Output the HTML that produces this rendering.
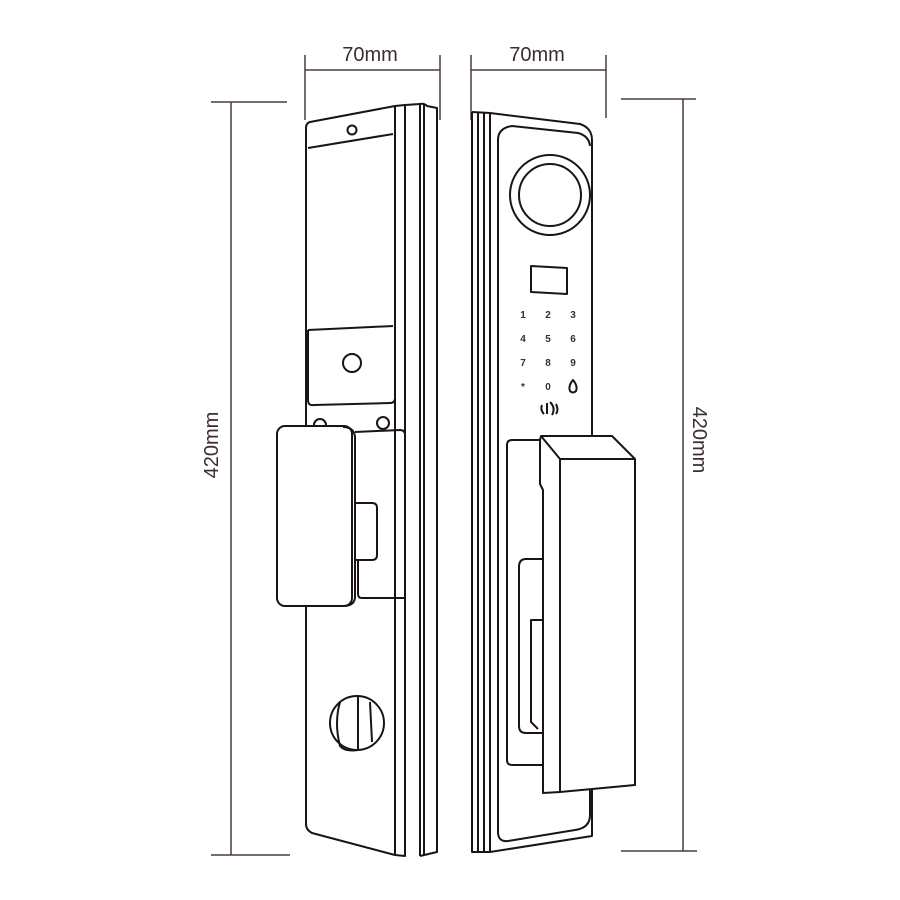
<!DOCTYPE html>
<html><head><meta charset="utf-8"><style>
html,body{margin:0;padding:0;background:#fff;}
svg{display:block}
text{font-family:"Liberation Sans",sans-serif;fill:#3a2e2e}
</style></head><body>
<svg width="900" height="900" viewBox="0 0 900 900" xmlns="http://www.w3.org/2000/svg">
<g stroke="#4a3a3a" stroke-width="1.5" fill="none">
<!-- top dimension left -->
<line x1="305" y1="55" x2="305" y2="120"/><line x1="440" y1="55" x2="440" y2="120"/>
<line x1="305" y1="70" x2="440" y2="70"/>
<!-- top dimension right -->
<line x1="471" y1="55" x2="471" y2="120"/><line x1="606" y1="55" x2="606" y2="118"/>
<line x1="471" y1="70" x2="606" y2="70"/>
<!-- left vertical dim -->
<line x1="211" y1="102" x2="287" y2="102"/><line x1="211" y1="855" x2="290" y2="855"/>
<line x1="231" y1="102" x2="231" y2="855"/>
<!-- right vertical dim -->
<line x1="621" y1="99" x2="696" y2="99"/><line x1="621" y1="851" x2="697" y2="851"/>
<line x1="683" y1="99" x2="683" y2="851"/>
</g>
<text x="370" y="61" font-size="20" text-anchor="middle">70mm</text>
<text x="537" y="61" font-size="20" text-anchor="middle">70mm</text>
<text transform="translate(218,445) rotate(-90)" font-size="20" text-anchor="middle">420mm</text>
<text transform="translate(693,440) rotate(90)" font-size="20" text-anchor="middle">420mm</text>

<g stroke="#1a1414" stroke-width="2" fill="none" stroke-linejoin="round">
<!-- LEFT LOCK -->
<path d="M310 122 L395 106 L395 855 L312 833 Q306 830 306 824 L306 128 Q306 123 310 122 Z"/>
<path d="M395 106 L405 105 L405 856 L395 855"/>
<path d="M405 105 L420 104 L420 856"/>
<path d="M420 104 Q424 103 427 106 L437 108 L437 852 L420 856"/>
<line x1="424" y1="104" x2="424" y2="855"/>
<!-- screen region -->
<path d="M308 148 L393 134"/>
<path d="M308 330 L393 326"/>
<path d="M308 330 L308 400 Q308 406 314 405 L390 403 Q395 403 395 398"/>
<circle cx="352" cy="130" r="4.5"/>
<circle cx="352" cy="363" r="9"/>
<!-- small circles -->
<circle cx="320" cy="425" r="6"/><circle cx="383" cy="423" r="6"/>
<!-- right block behind handle -->
<path d="M355 432 L400 430 Q405 430 405 435 L405 598 L362 598 Q358 598 358 594 L358 560"/>
<path d="M355 503 L372 503 Q377 503 377 508 L377 555 Q377 560 372 560 L355 560"/>
<!-- handle -->
<rect x="277" y="426" width="75" height="180" rx="8" fill="#fff"/>
<path d="M343 427 Q354 427 355 437 L355 598 Q354 606 343 606"/>
<!-- knob -->
<ellipse cx="357" cy="723" rx="27" ry="27"/>
<path d="M358 696 L358 750"/>
<path d="M340 702 Q334 723 340 746 Q345 752 358 750"/>
<path d="M370 702 L372 742"/>

<!-- RIGHT LOCK -->
<path d="M472 112 L472 852 L490 852"/>
<line x1="478" y1="112" x2="478" y2="852"/>
<line x1="484" y1="112" x2="484" y2="852"/>
<path d="M472 112 L490 113 L580 124 Q592 128 592 140 L592 836 L490 852 L490 113"/>
<path d="M498 140 Q498 128 512 126 L578 133 Q589 136 590 146"/>
<path d="M498 140 L498 832 Q498 842 508 841 L575 830 Q590 828 590 815 L590 790"/>
<circle cx="550" cy="195" r="40"/>
<circle cx="550" cy="195" r="31"/>
<path d="M531 266 L567 268 L567 294 L531 292 Z"/>
</g>
<g font-size="10" text-anchor="middle" font-weight="bold">
<text x="523" y="318">1</text><text x="548" y="318">2</text><text x="573" y="318">3</text>
<text x="523" y="342">4</text><text x="548" y="342">5</text><text x="573" y="342">6</text>
<text x="523" y="366">7</text><text x="548" y="366">8</text><text x="573" y="366">9</text>
<text x="523" y="390">*</text><text x="548" y="390">0</text>
</g>
<g stroke="#1a1414" stroke-width="2" fill="none" stroke-linejoin="round">
<path d="M573 380 Q578 386 576 391 Q573 394 570 391 Q568 386 573 380 Z"/>
<path d="M542 405 Q540 410 544 414 M547 403 L547 414 M550 402 Q556 408 552 415 M556 404 Q559 410 556 414"/>
<!-- back panel -->
<path d="M545 440 L512 440 Q507 440 507 445 L507 760 Q507 765 512 765 L545 765"/>
<path d="M543 559 L526 559 Q519 559 519 567 L519 726 Q519 733 526 733 L543 733"/>
<path d="M543 620 L531 620 L531 722 L538 729"/>
<!-- block -->
<path d="M541 436 L612 436 L635 459 L635 785 L560 792 L543 793 L543 490 L540 484 L540 440 Z" fill="#fff"/>
<path d="M541 436 L560 459 L635 459"/>
<line x1="560" y1="459" x2="560" y2="792"/>
</g>
</svg>
</body></html>
